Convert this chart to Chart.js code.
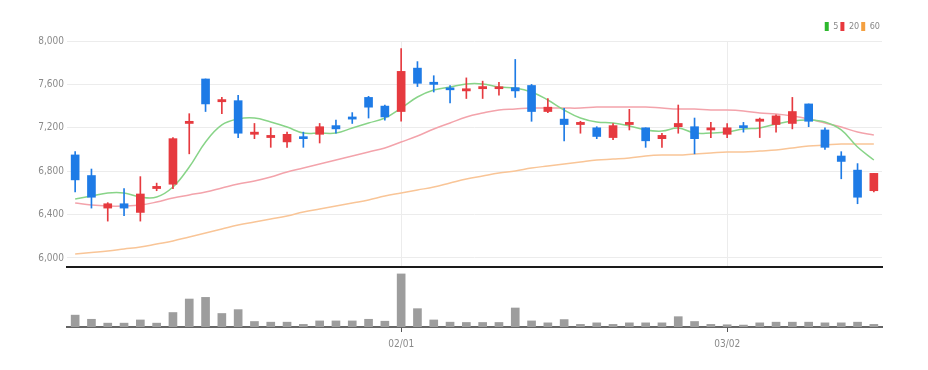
<!DOCTYPE html>
<html>
<head>
<meta charset="utf-8">
<script src="https://cdn.jsdelivr.net/npm/chart.js@4.4.0/dist/chart.umd.min.js"></script>
<style>
  body { margin: 0; background: #fff; }
  #wrap { position: relative; width: 928px; height: 370px; }
  #price { position: absolute; left: 0; top: 0; }
  #volume { position: absolute; left: 0; top: 270px; }
</style>
</head>
<body>
<div id="wrap">
  <canvas id="price" width="928" height="276"></canvas>
  <canvas id="volume" width="928" height="100"></canvas>
</div>
<script>
const dates = ['01/02', '01/03', '01/04', '01/05', '01/06', '01/09', '01/10', '01/11', '01/12', '01/13',
  '01/16', '01/17', '01/18', '01/19', '01/20', '01/25', '01/26', '01/27', '01/30', '01/31',
  '02/01', '02/02', '02/03', '02/06', '02/07', '02/08', '02/09', '02/10', '02/13', '02/14',
  '02/15', '02/16', '02/17', '02/20', '02/21', '02/22', '02/23', '02/24', '02/27', '02/28',
  '03/02', '03/03', '03/06', '03/07', '03/08', '03/09', '03/10', '03/13', '03/14', '03/15'];
const tickDates = ['02/01', '03/02'];
const priceTicks = [6000, 6400, 6800, 7200, 7600, 8000];
const maNames = ['5', '20', '60'];

const opens = [6950, 6760, 6460, 6500, 6420, 6640, 6680, 7240, 7650, 7440,
  7450, 7140, 7110, 7070, 7110, 7140, 7220, 7300, 7480, 7400,
  7350, 7750, 7620, 7560, 7540, 7560, 7560, 7570, 7590, 7350,
  7280, 7230, 7200, 7110, 7230, 7200, 7100, 7210, 7210, 7180,
  7140, 7220, 7260, 7230, 7240, 7420, 7180, 6940, 6810, 6620];
const highs = [6980, 6820, 6510, 6640, 6750, 6690, 7110, 7330, 7650, 7480,
  7500, 7240, 7200, 7160, 7160, 7240, 7270, 7340, 7490, 7410,
  7930, 7810, 7680, 7590, 7660, 7630, 7620, 7830, 7600, 7470,
  7380, 7260, 7210, 7240, 7370, 7200, 7150, 7410, 7290, 7250,
  7240, 7250, 7290, 7320, 7480, 7420, 7200, 6980, 6870, 6780];
const lows = [6610, 6460, 6340, 6390, 6340, 6620, 6640, 6960, 7350, 7330,
  7110, 7100, 7020, 7020, 7020, 7060, 7150, 7240, 7290, 7270,
  7260, 7580, 7530, 7430, 7470, 7470, 7500, 7480, 7260, 7340,
  7080, 7150, 7100, 7090, 7180, 7020, 7020, 7150, 6960, 7110,
  7110, 7160, 7110, 7160, 7190, 7210, 7000, 6730, 6500, 6610];
const closes = [6720, 6560, 6500, 6460, 6590, 6660, 7100, 7260, 7420, 7460,
  7150, 7160, 7130, 7140, 7100, 7210, 7190, 7280, 7390, 7300,
  7720, 7610, 7600, 7550, 7560, 7580, 7570, 7540, 7350, 7390,
  7230, 7250, 7120, 7220, 7250, 7080, 7130, 7240, 7100, 7200,
  7200, 7200, 7280, 7310, 7350, 7260, 7020, 6890, 6560, 6780];

const ma5 = [6544, 6571, 6599, 6599, 6562, 6562, 6654, 6839, 7069, 7226,
  7281, 7290, 7253, 7207, 7152, 7152, 7152, 7198, 7244, 7290,
  7382, 7484, 7548, 7576, 7604, 7604, 7576, 7567, 7530, 7456,
  7364, 7290, 7253, 7244, 7217, 7180, 7170, 7198, 7152, 7152,
  7161, 7189, 7198, 7235, 7263, 7272, 7253, 7180, 7023, 6903];
const ma20 = [6507, 6488, 6479, 6479, 6488, 6516, 6553, 6581, 6608, 6645,
  6682, 6710, 6747, 6793, 6829, 6866, 6903, 6940, 6977, 7014,
  7069, 7124, 7189, 7244, 7300, 7336, 7364, 7373, 7382, 7382,
  7382, 7382, 7392, 7392, 7392, 7392, 7382, 7373, 7373, 7364,
  7364, 7355, 7336, 7327, 7309, 7281, 7244, 7207, 7161, 7134];
const ma60 = [6037, 6051, 6065, 6083, 6101, 6129, 6157, 6194, 6230, 6267,
  6304, 6332, 6359, 6387, 6424, 6452, 6479, 6507, 6535, 6571,
  6599, 6627, 6654, 6691, 6728, 6756, 6783, 6802, 6829, 6848,
  6866, 6885, 6903, 6912, 6922, 6940, 6949, 6949, 6959, 6968,
  6977, 6977, 6986, 6995, 7014, 7032, 7041, 7051, 7051, 7051];

const volumes = [246000, 160000, 80000, 80000, 146000, 80000, 300000, 580000, 614000, 280000,
  360000, 114000, 100000, 100000, 54000, 126000, 126000, 126000, 160000, 120000,
  1100000, 380000, 146000, 100000, 94000, 94000, 94000, 394000, 126000, 86000,
  154000, 54000, 86000, 54000, 86000, 86000, 86000, 214000, 114000, 54000,
  46000, 40000, 86000, 100000, 100000, 100000, 86000, 86000, 100000, 54000];

const FONT = "'Liberation Sans Narrow', 'DejaVu Sans Condensed', 'Liberation Sans', Arial, sans-serif";
const UP = '#e63a3f';
const DOWN = '#1e7be6';
const candleColors = closes.map((c, i) => c >= opens[i] ? UP : DOWN);

// graphique des cours (bougies + moyennes mobiles)
const priceChart = new Chart(document.getElementById('price'), {
  type: 'bar',
  data: {
    labels: dates,
    datasets: [
      { type: 'line', label: maNames[0], data: ma5, borderColor: '#88d488', backgroundColor: '#2db82d',
        borderWidth: 1.5, pointRadius: 0, tension: 0.4, order: 2 },
      { type: 'line', label: maNames[1], data: ma20, borderColor: '#f3a3ab', backgroundColor: '#e8383d',
        borderWidth: 1.5, pointRadius: 0, tension: 0.4, order: 2 },
      { type: 'line', label: maNames[2], data: ma60, borderColor: '#f9c597', backgroundColor: '#f4a040',
        borderWidth: 1.5, pointRadius: 0, tension: 0.4, order: 2 },
      { label: 'wick', data: lows.map((l, i) => [l, highs[i]]), backgroundColor: candleColors,
        barThickness: 1, grouped: false, order: 1 },
      { label: 'body', data: opens.map((o, i) => [o, closes[i]]), backgroundColor: candleColors,
        barThickness: 8, grouped: false, minBarLength: 2, order: 0 }
    ]
  },
  options: {
    responsive: false,
    animation: false,
    layout: { padding: { left: 0, right: 46, top: 20, bottom: 3 } },
    scales: {
      x: {
        offset: true,
        grid: {
          offset: false,
          drawTicks: false,
          color: ctx => tickDates.includes(dates[ctx.index]) ? '#ececec' : 'transparent'
        },
        ticks: { display: false },
        border: { display: true, color: '#1a1a1a', width: 2 }
      },
      y: {
        min: 5917,
        max: 8000,
        afterBuildTicks: scale => { scale.ticks = priceTicks.map(v => ({ value: v })); },
        afterFit: scale => { scale.width = 67; },
        grid: { color: '#ececec', drawTicks: false },
        border: { display: false },
        ticks: { color: '#8a8a8a', padding: 3, font: { family: FONT, size: 10 } }
      }
    },
    plugins: {
      legend: {
        position: 'top',
        align: 'end',
        labels: {
          boxWidth: 4,
          boxHeight: 9,
          padding: 2,
          color: '#888',
          font: { family: FONT, size: 9 },
          filter: item => maNames.includes(item.text),
          generateLabels: chart => Chart.defaults.plugins.legend.labels.generateLabels(chart)
            .map(l => Object.assign(l, { strokeStyle: l.fillStyle, lineWidth: 0 }))
        }
      },
      tooltip: { enabled: false }
    }
  }
});

// volumes
const volumeChart = new Chart(document.getElementById('volume'), {
  type: 'bar',
  data: {
    labels: dates,
    datasets: [{ data: volumes, backgroundColor: '#9d9d9d', barThickness: 8 }]
  },
  options: {
    responsive: false,
    animation: false,
    layout: { padding: { left: 0, right: 46, top: 2, bottom: 14 } },
    scales: {
      x: {
        offset: true,
        grid: {
          offset: false,
          drawOnChartArea: false,
          tickLength: 5,
          tickColor: ctx => ctx.tick && ctx.tick.label ? '#555' : 'transparent'
        },
        border: { color: '#666', width: 2 },
        ticks: {
          autoSkip: false,
          maxRotation: 0,
          padding: 6,
          color: '#8a8a8a',
          font: { family: FONT, size: 10 },
          callback: (v, i) => tickDates.includes(dates[i]) ? dates[i] : ''
        }
      },
      y: {
        min: 0,
        max: 1140000,
        afterFit: scale => { scale.width = 67; },
        grid: { display: false },
        border: { display: false },
        ticks: { display: false }
      }
    },
    plugins: { legend: { display: false }, tooltip: { enabled: false } }
  }
});
</script>
</body>
</html>
